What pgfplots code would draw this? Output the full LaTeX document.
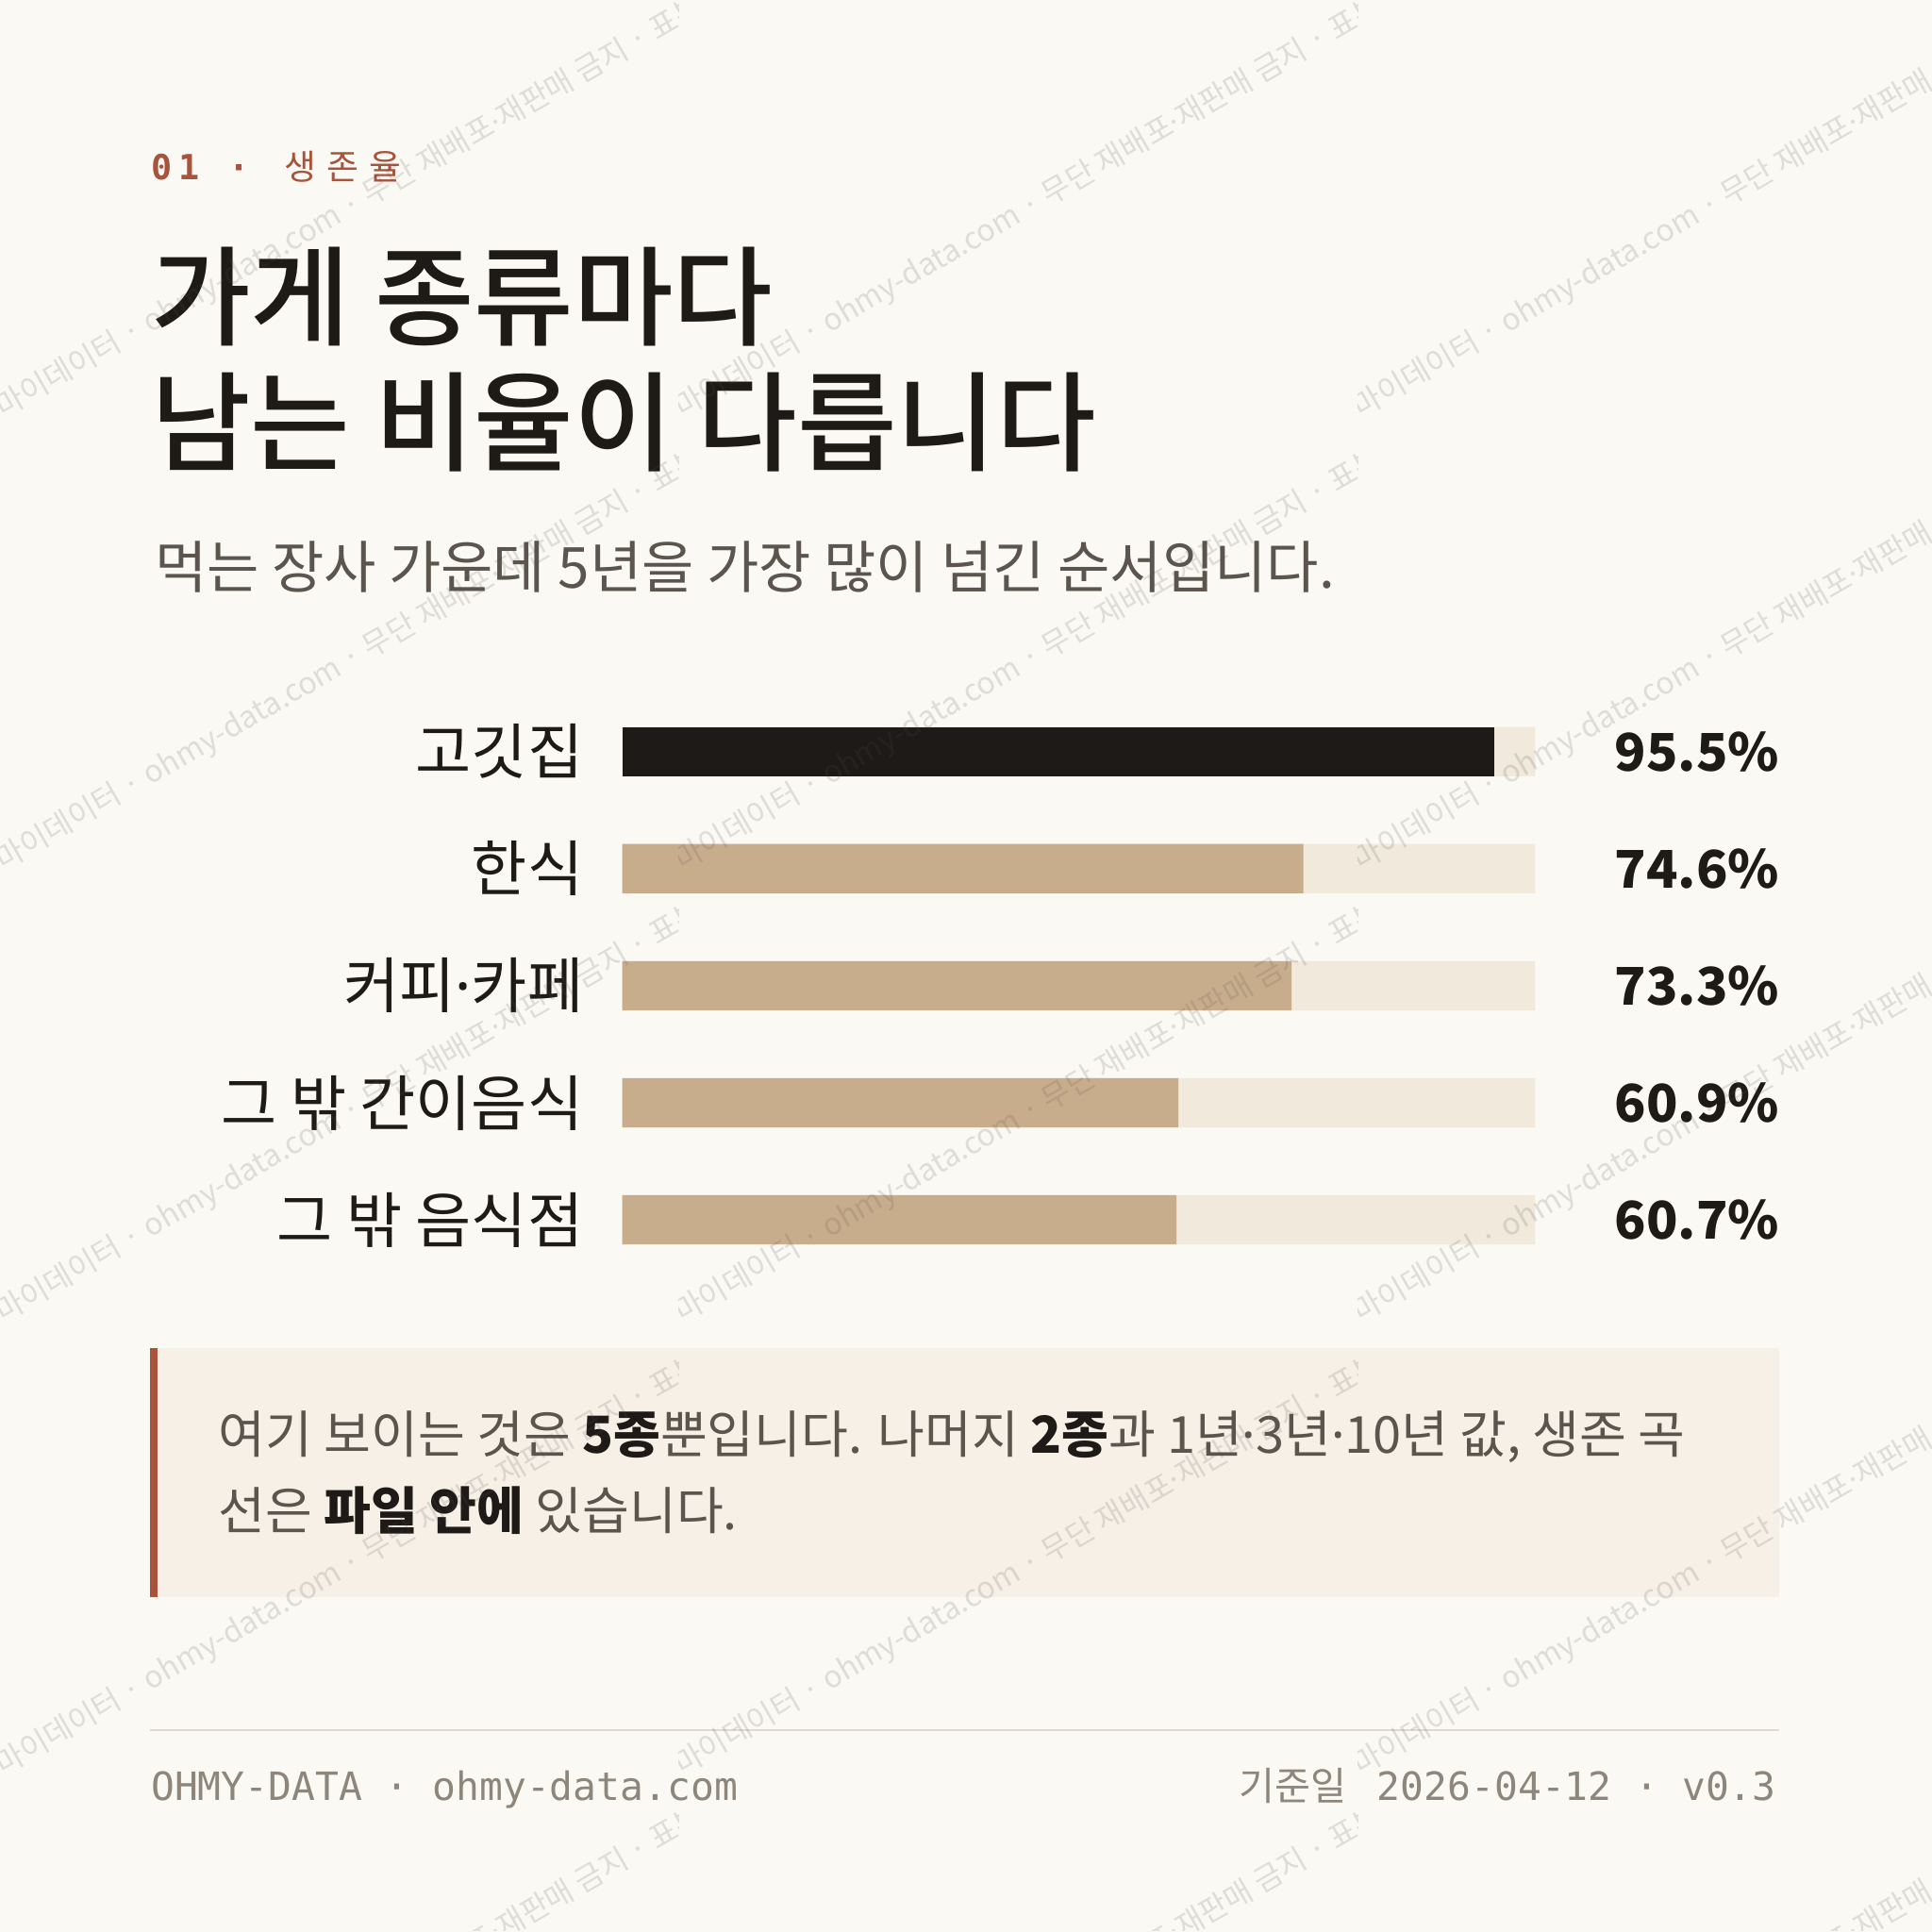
\documentclass[border=0pt]{standalone}
\usepackage{fontspec}
\setmainfont{Noto Sans CJK KR}
\newfontfamily\titlefont{Noto Sans CJK KR Medium}
\newfontfamily\monofont{DejaVu Sans Mono}
\newfontfamily\latinfont{Noto Sans}
\usepackage{pgfplots}
\pgfplotsset{compat=1.18}

\definecolor{bg}{HTML}{FBF9F4}
\definecolor{ink}{HTML}{1E1A17}
\definecolor{soft}{HTML}{5C554E}
\definecolor{rust}{HTML}{A8533B}
\definecolor{tan}{HTML}{C8AD8C}
\definecolor{track}{HTML}{F1E9DC}
\definecolor{notebg}{HTML}{F7F0E6}
\definecolor{rule}{HTML}{E0D9CE}
\definecolor{foot}{HTML}{8E867B}

\newcommand{\md}{{\latinfont ·}}
\newcommand{\wm}{마이데이터 · ohmy-data.com · 무단 재배포\md 재판매 금지 · 표본 데이터}

\begin{document}
\begin{tikzpicture}
\useasboundingbox (0,0) rectangle (15.68,-15.68);
\fill[bg] (0,0) rectangle (15.68,-15.68);

\begin{scope}[x=0.01cm,y=-0.01cm]
  % kicker
  \node[anchor=base west,inner sep=0pt,text=rust] at (122,146)
    {\monofont\bfseries\fontsize{8}{10}\selectfont 0\hspace{1.5pt}1};
  \node[anchor=base,inner sep=0pt,text=rust] at (194,146)
    {\monofont\bfseries\fontsize{8}{10}\selectfont ·};
  \node[anchor=base west,inner sep=0pt,text=rust] at (230,146)
    {\fontsize{8}{10}\selectfont 생\hspace{2.5pt}존\hspace{2.5pt}율};
  % title
  \node[anchor=base west,inner sep=0pt,text=ink] at (122,274)
    {\titlefont\fontsize{25}{30}\selectfont 가게 종류마다};
  \node[anchor=base west,inner sep=0pt,text=ink] at (122,376)
    {\titlefont\fontsize{25}{30}\selectfont 남는 비율이 다릅니다};
  % subtitle
  \node[anchor=base west,inner sep=0pt,text=soft] at (125,478)
    {\fontsize{13.1}{16}\selectfont 먹는 장사 가운데 5년을 가장 많이 넘긴 순서입니다.};
  % note box
  \fill[notebg] (122,1095) rectangle (1445,1297);
  \fill[rust] (122,1095) rectangle (128,1297);
  \node[anchor=base west,inner sep=0pt,text=soft] at (177,1180)
    {\fontsize{11.8}{14}\selectfont 여기 보이는 것은 \textcolor{ink}{\bfseries 5종}뿐입니다. 나머지 \textcolor{ink}{\bfseries 2종}과 1년\md 3년\md 10년 값, 생존 곡};
  \node[anchor=base west,inner sep=0pt,text=soft] at (177,1242)
    {\fontsize{11.8}{14}\selectfont 선은 \textcolor{ink}{\bfseries 파일 안에} 있습니다.};
  % footer
  \draw[rule,line width=0.4pt] (122,1405) -- (1445,1405);
  \node[anchor=base west,inner sep=0pt,text=foot] at (122,1462)
    {\monofont\fontsize{9}{11}\selectfont OHMY-DATA · ohmy-data.com};
  \node[anchor=base east,inner sep=0pt,text=foot] at (1443,1462)
    {\fontsize{9}{11}\selectfont 기준일\hspace{7pt}{\monofont 2026-04-12 · v0.3}};
\end{scope}

\begin{axis}[
  at={(5.05cm,-5.625cm)}, anchor=north west,
  scale only axis, width=7.41cm, height=4.75cm,
  xmin=0, xmax=100, ymin=-0.5, ymax=4.5, y dir=reverse,
  clip=false,
  axis line style={draw=none}, tick style={draw=none},
  xtick=\empty, ytick={0,1,2,3,4},
  yticklabels={고깃집,한식,커피\md 카페,그 밖 간이음식,그 밖 음식점},
  yticklabel style={anchor=east, inner sep=0pt, xshift=-0.31cm,
    font=\fontsize{14}{16}\selectfont, text=ink},
]
\addplot[xbar, bar width=0.4cm, bar shift=0pt, fill=track, draw=none]
  coordinates {(100,0) (100,1) (100,2) (100,3) (100,4)};
\addplot[xbar, bar width=0.4cm, bar shift=0pt, fill=tan, draw=none]
  coordinates {(74.6,1) (73.3,2) (60.9,3) (60.7,4)};
\addplot[xbar, bar width=0.4cm, bar shift=0pt, fill=ink, draw=none]
  coordinates {(95.5,0)};
\addplot[draw=none, mark=none, point meta=explicit symbolic,
  nodes near coords,
  every node near coord/.style={anchor=east, inner sep=0pt,
    font=\fontsize{12}{14}\selectfont\bfseries, text=ink}]
  coordinates {(126.8,0) [95.5\%] (126.8,1) [74.6\%] (126.8,2) [73.3\%]
               (126.8,3) [60.9\%] (126.8,4) [60.7\%]};
\end{axis}

% watermark
\begin{scope}[x=0.01cm,y=-0.01cm]
\foreach \i in {0,1,2} {
  \begin{scope}
    \clip (\i*551.3,0) rectangle ({(\i+1)*551.3},1568);
    \foreach \j in {0,...,4} {
      \node[overlay, rotate=30, anchor=base west, inner sep=0pt, text=black!70,
        text opacity=0.16, font=\fontsize{7}{8}\selectfont]
        at (\i*551.3+2, 340+\j*367.5) {\wm};
    }
  \end{scope}
}
\end{scope}
\end{tikzpicture}
\end{document}
